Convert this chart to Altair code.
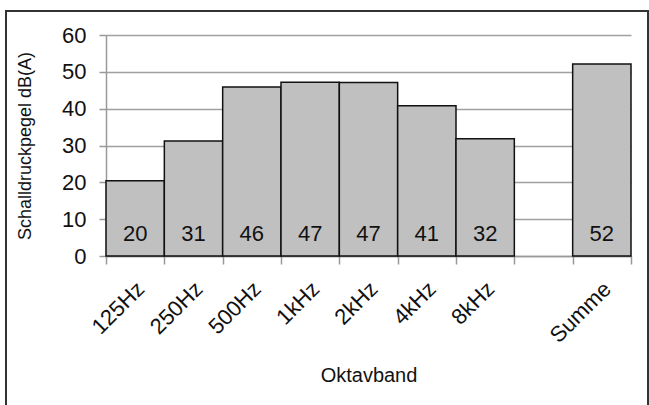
import altair as alt
import pandas as pd

# Octave bands (with an empty slot before the total) and A-weighted levels
bands = ["125Hz", "250Hz", "500Hz", "1kHz", "2kHz", "4kHz", "8kHz", " ", "Summe"]
bar_bands = ["125Hz", "250Hz", "500Hz", "1kHz", "2kHz", "4kHz", "8kHz", "Summe"]
levels = [20.4, 31.2, 45.9, 47.2, 47.1, 40.8, 31.8, 52.1]
y_ticks = [0, 10, 20, 30, 40, 50, 60]

df = pd.DataFrame({"band": bar_bands, "level": levels})

label_font = "Liberation Sans"

x_enc = alt.X(
    "band:N",
    sort=bands,
    scale=alt.Scale(domain=bands, paddingInner=0, paddingOuter=0),
    axis=alt.Axis(
        title="Oktavband",
        labelAngle=-45,
        labelAlign="right",
        labelBaseline="top",
        labelFontSize=22,
        labelFont=label_font,
        labelColor="#111",
        labelPadding=14,
        labelOffset=-2,
        tickBand="extent",
        tickSize=8,
        tickColor="#999",
        tickWidth=1.5,
        domainColor="#999",
        domainWidth=1.5,
        titleFontSize=20,
        titleFont=label_font,
        titleFontWeight="normal",
        titleColor="#111",
        titleY=119,
        titleBaseline="middle",
        grid=False,
    ),
)

y_scale = alt.Scale(domain=[0, 60], nice=False)

y_axis = alt.Axis(
    title="Schalldruckpegel dB(A)",
    values=y_ticks,
    labelOverlap=False,
    labelFontSize=22,
    labelFont=label_font,
    labelColor="#111",
    labelPadding=13,
    tickSize=7,
    tickColor="#999",
    tickWidth=1.5,
    domainColor="#999",
    domainWidth=1.5,
    gridColor="#a0a0a0",
    gridWidth=1.5,
    titleFontSize=18,
    titleFont=label_font,
    titleFontWeight="normal",
    titleColor="#111",
    titleX=-81,
    titleBaseline="middle",
)

bars = alt.Chart(df).mark_bar(
    color="#c0c0c0", stroke="#111", strokeWidth=1.5
).encode(
    x=x_enc,
    y=alt.Y("level:Q", scale=y_scale, axis=y_axis),
)

# Rounded level printed near the foot of each bar
values_text = alt.Chart(df).mark_text(
    fontSize=22, font=label_font, color="#111", baseline="middle"
).encode(
    x=alt.X("band:N", sort=bands, scale=alt.Scale(domain=bands)),
    y=alt.value(199),
    text=alt.Text("level:Q", format=".0f"),
)

frame = alt.Chart(pd.DataFrame({"f": [0]})).mark_rect(
    fill=None, stroke="#333", strokeWidth=2
).encode(
    x=alt.value(-100),
    x2=alt.value(542),
    y=alt.value(-24),
    y2=alt.value(380),
)

chart = alt.layer(bars, values_text, frame).properties(
    width=525,
    height=221,
    autosize=alt.AutoSizeParams(type="none"),
    padding={"left": 106, "top": 35, "right": 18, "bottom": 149},
    background="white",
).configure_view(stroke=None)

chart.save("out.html", embed_options={"renderer": "svg", "actions": False})
